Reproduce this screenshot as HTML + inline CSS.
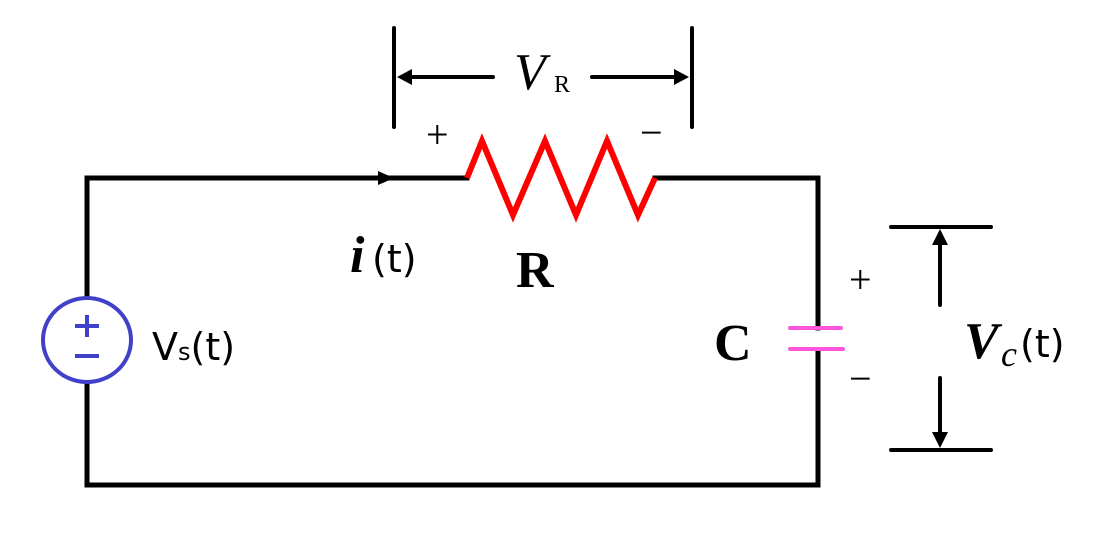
<!DOCTYPE html>
<html><head><meta charset="utf-8"><style>
html,body{margin:0;padding:0;background:#fff;}
svg{display:block;}
</style></head><body>
<svg width="1103" height="539" viewBox="0 0 1103 539" xmlns="http://www.w3.org/2000/svg">
<g stroke="#000" stroke-width="5" fill="none" stroke-linecap="square">
<polyline points="467,178 87,178 87,298"/>
<polyline points="87,382 87,485 818,485 818,350"/>
<polyline points="655,178 818,178 818,328"/>
</g>
<polygon points="378,171 394,178 378,185" fill="#000"/>
<polyline points="467,178 482,141 513,215 545,141 576,215 607,141 638,215 655,178" fill="none" stroke="#f00" stroke-width="6" stroke-linejoin="miter"/>
<ellipse cx="87" cy="340" rx="44" ry="42" fill="#fff" stroke="#4040c8" stroke-width="4"/>
<g stroke="#4040c8" stroke-width="4"><line x1="75" y1="326" x2="99" y2="326"/><line x1="87" y1="315" x2="87" y2="337"/><line x1="75" y1="356" x2="99" y2="356"/></g>
<g stroke="#ff55dd" stroke-width="4" stroke-linecap="round"><line x1="790" y1="328" x2="841" y2="328"/><line x1="790" y1="349" x2="843" y2="349"/></g>
<g stroke="#000" stroke-width="4" stroke-linecap="round">
<line x1="394" y1="28" x2="394" y2="127"/><line x1="692" y1="28" x2="692" y2="127"/>
<line x1="405" y1="77" x2="493" y2="77"/><line x1="592" y1="77" x2="680" y2="77"/>
<line x1="891" y1="227" x2="991" y2="227"/><line x1="891" y1="450" x2="991" y2="450"/>
<line x1="940" y1="240" x2="940" y2="305"/><line x1="940" y1="378" x2="940" y2="438"/>
</g>
<polygon points="397,77 412,69 412,85" fill="#000"/>
<polygon points="689,77 674,69 674,85" fill="#000"/>
<polygon points="940,229 932,245 948,245" fill="#000"/>
<polygon points="940,448 932,432 948,432" fill="#000"/>
<g font-family="Liberation Serif, serif" fill="#000">
<text x="514" y="89" font-size="52" font-style="italic">V</text>
<text x="554" y="92" font-size="24">R</text>
<text x="426" y="148" font-size="40">+</text>
<text x="640" y="146" font-size="40">−</text>
<text x="350" y="272" font-size="52" font-style="italic" font-weight="bold">i</text>
<text x="516" y="287" font-size="52" font-weight="bold">R</text>
<text x="714" y="360" font-size="52" font-weight="bold">C</text>
<text x="849" y="293" font-size="40">+</text>
<text x="849" y="392" font-size="40">−</text>
<text x="964" y="358" font-size="52" font-style="italic" font-weight="bold">V</text>
<text x="1001" y="366" font-size="36" font-style="italic">c</text>
</g>
<g font-family="DejaVu Sans, Liberation Sans, sans-serif" fill="#000">
<text x="372" y="272" font-size="38">(t)</text>
<text x="152" y="360" font-size="38">V<tspan font-size="24">s</tspan>(t)</text>
<text x="1020" y="357" font-size="38">(t)</text>
</g>
</svg>
</body></html>
